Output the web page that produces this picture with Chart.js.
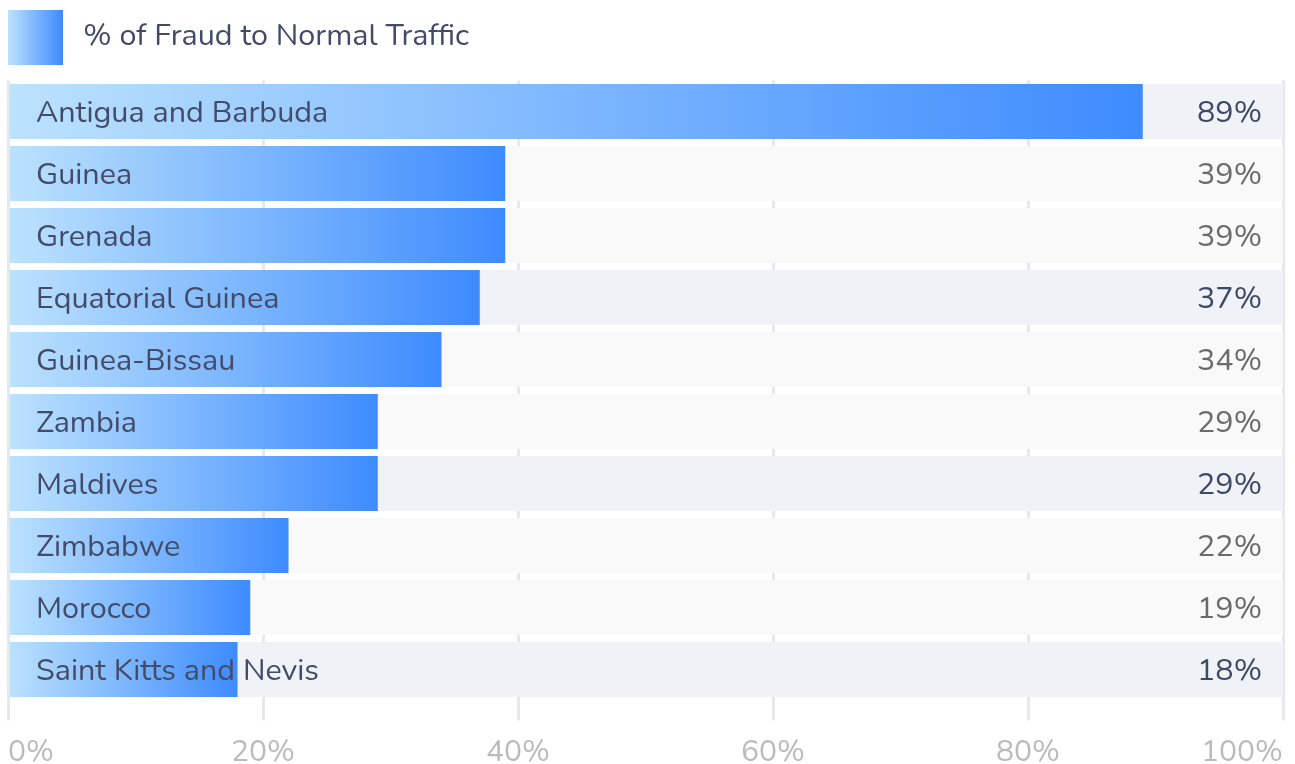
<!DOCTYPE html>
<html>
<head>
<meta charset="utf-8">
<script src="https://cdn.jsdelivr.net/npm/chart.js@4/dist/chart.umd.min.js"></script>
<style>
  html, body { margin: 0; padding: 0; background: #ffffff; }
  #wrap { width: 1295px; height: 764px; position: relative; }
</style>
</head>
<body>
<div id="wrap"><canvas id="c" width="1295" height="764"></canvas></div>
<script>
const categories = ['Antigua and Barbuda', 'Guinea', 'Grenada', 'Equatorial Guinea', 'Guinea-Bissau',
  'Zambia', 'Maldives', 'Zimbabwe', 'Morocco', 'Saint Kitts and Nevis'];
const fraudPct = [89, 39, 39, 37, 34, 29, 29, 22, 19, 18];
const rowHighlighted = [true, false, false, true, false, false, true, false, false, true];
const seriesName = '% of Fraud to Normal Traffic';
const xTicks = [0, 20, 40, 60, 80, 100];

const FONT = "Nunito, Lato, 'Noto Sans', sans-serif";
const GRAD_START = '#bce2fd';
const GRAD_END = '#3d8bff';

const swatch = document.createElement('canvas');
swatch.width = 60; swatch.height = 55;
(function () {
  const s = swatch.getContext('2d');
  const g = s.createLinearGradient(0, 0, 55, 0);
  g.addColorStop(0, GRAD_START);
  g.addColorStop(1, GRAD_END);
  s.fillStyle = g;
  s.fillRect(0, 0, 55, 55);
})();

function barGradient(ctx) {
  const chart = ctx.chart;
  if (!chart.chartArea || ctx.dataIndex === undefined) return GRAD_END;
  const xs = chart.scales.x;
  const x0 = xs.getPixelForValue(0);
  const x1 = xs.getPixelForValue(fraudPct[ctx.dataIndex]);
  const g = chart.ctx.createLinearGradient(x0, 0, x1, 0);
  g.addColorStop(0, GRAD_START);
  g.addColorStop(1, GRAD_END);
  return g;
}

const legendHeightPlugin = {
  id: 'legendHeight',
  afterInit(chart) {
    const lg = chart.legend;
    if (lg && !lg._patched) {
      const origFit = lg.fit;
      lg.fit = function () { origFit.call(this); this.height = 80.5; };
      lg._patched = true;
    }
  }
};

const labelPlugin = {
  id: 'rowLabels',
  afterDraw(chart) {
    const c = chart.ctx;
    const ys = chart.scales.y;
    const area = chart.chartArea;
    c.save();
    c.font = '30.5px ' + FONT;
    c.textBaseline = 'middle';
    categories.forEach((name, i) => {
      const y = ys.getPixelForValue(i);
      c.fillStyle = '#434b69';
      c.textAlign = 'left';
      c.fillText(name, area.left + 28, y + 3);
      c.textAlign = 'right';
      c.fillStyle = rowHighlighted[i] ? '#3f4867' : '#6b6b6b';
      c.fillText(fraudPct[i] + '%', area.right - 21, y + 3);
    });
    c.restore();
  }
};

new Chart(document.getElementById('c'), {
  type: 'bar',
  data: {
    labels: categories,
    datasets: [
      {
        label: seriesName,
        data: fraudPct,
        backgroundColor: barGradient,
        borderWidth: 0,
        categoryPercentage: 1,
        barPercentage: 0.887,
        grouped: false,
        order: 0
      },
      {
        label: 'row',
        data: categories.map(() => 100),
        backgroundColor: rowHighlighted.map(h => h ? '#eff2f7' : '#f9f9f9'),
        borderWidth: 0,
        categoryPercentage: 1,
        barPercentage: 0.887,
        grouped: false,
        order: 1
      }
    ]
  },
  options: {
    indexAxis: 'y',
    responsive: false,
    animation: false,
    devicePixelRatio: 1,
    layout: { padding: { left: 0, right: 12, top: 0, bottom: 0 } },
    plugins: {
      legend: {
        display: true,
        position: 'top',
        align: 'start',
        title: {
          display: true,
          text: '',
          padding: 0,
          font: { size: 10, lineHeight: 1.4 }
        },
        labels: {
          usePointStyle: true,
          pointStyle: swatch,
          pointStyleWidth: 60,
          padding: 8,
          color: '#434b69',
          font: { family: FONT, size: 30.5 },
          filter: item => item.datasetIndex === 0
        }
      },
      tooltip: { enabled: false }
    },
    scales: {
      x: {
        min: 0,
        max: 100,
        z: 1,
        afterBuildTicks: axis => { axis.ticks = xTicks.map(v => ({ value: v })); },
        afterFit: axis => { axis.height = 63.5; },
        ticks: {
          align: 'inner',
          padding: 0,
          color: '#bbbbbb',
          font: { family: FONT, size: 30, lineHeight: 2.2 },
          callback: v => v + '%'
        },
        grid: {
          color: 'rgba(0,0,0,0.09)',
          lineWidth: 3,
          tickLength: 20,
          drawTicks: true
        },
        border: { display: false }
      },
      y: {
        display: true,
        ticks: { display: false },
        grid: { display: false, drawTicks: false },
        border: { display: false },
        afterFit: axis => { axis.width = 8; }
      }
    }
  },
  plugins: [legendHeightPlugin, labelPlugin]
});
</script>
</body>
</html>
